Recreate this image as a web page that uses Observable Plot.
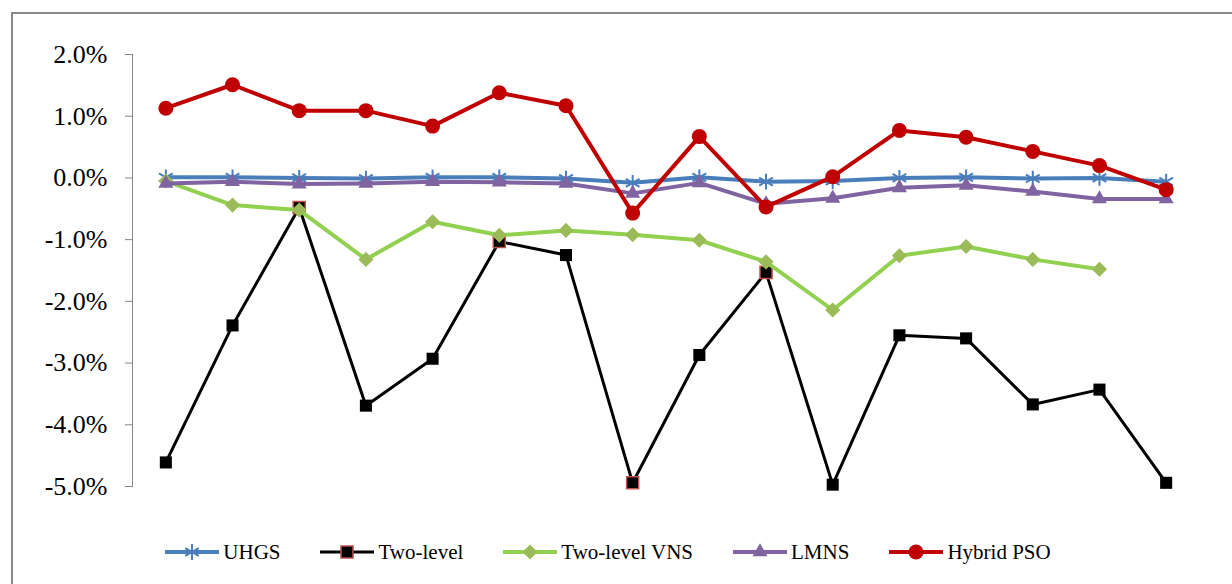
<!DOCTYPE html>
<html>
<head>
<meta charset="utf-8">
<script src="https://cdn.jsdelivr.net/npm/d3@7"></script>
<script src="https://cdn.jsdelivr.net/npm/@observablehq/plot@0.6"></script>
<style>
html, body { margin: 0; padding: 0; background: #fff; }
body { width: 1232px; height: 584px; overflow: hidden; position: relative; font-family: "Liberation Serif", "Times New Roman", Times, "Nimbus Roman", "DejaVu Serif", serif; }
#frame { position: absolute; left: 11px; top: 12px; width: 1300px; height: 700px; border: 2px solid #898989; box-sizing: border-box; pointer-events: none; }
#chart { position: absolute; left: 0; top: 0; }
#chart g[aria-label="y-axis tick label"] { fill: #000; }
#legend { position: absolute; left: 0; top: 535px; width: 1216px; height: 34px; display: flex; justify-content: center; align-items: center; gap: 40px; font-size: 21px; color: #000; }
.item { display: flex; align-items: center; }
.item svg { margin-right: 4px; overflow: visible; }
</style>
</head>
<body>
<div id="chart"></div>
<div id="legend"></div>
<div id="frame"></div>
<script>
// ---- data (percent) ----
const categories = [1, 2, 3, 4, 5, 6, 7, 8, 9, 10, 11, 12, 13, 14, 15, 16];
const uhgs      = [0.01, 0.01, 0.00, -0.01, 0.01, 0.01, -0.01, -0.08, 0.01, -0.06, -0.05, 0.00, 0.01, -0.01, 0.00, -0.06];
const twoLevel  = [-4.61, -2.39, -0.48, -3.69, -2.93, -1.03, -1.25, -4.94, -2.87, -1.53, -4.97, -2.55, -2.60, -3.67, -3.43, -4.94];
const twoLevelVNS = [-0.05, -0.44, -0.52, -1.32, -0.71, -0.93, -0.85, -0.92, -1.01, -1.36, -2.14, -1.26, -1.11, -1.32, -1.48, null];
const lmns      = [-0.09, -0.06, -0.10, -0.09, -0.06, -0.07, -0.09, -0.25, -0.08, -0.42, -0.33, -0.16, -0.12, -0.22, -0.34, -0.34];
const hybridPSO = [1.13, 1.51, 1.09, 1.09, 0.84, 1.38, 1.17, -0.57, 0.67, -0.47, 0.02, 0.77, 0.66, 0.43, 0.20, -0.19];
const twoLevelOutlined = [3, 6, 8, 10];
const seriesNames = ["UHGS", "Two-level", "Two-level VNS", "LMNS", "Hybrid PSO"];
const yTicks = [-5, -4, -3, -2, -1, 0, 1, 2];

const serifFont = "'Liberation Serif', 'Times New Roman', Times, 'Nimbus Roman', 'DejaVu Serif', serif";

// ---- styles ----
const seriesDefs = [
  {name: seriesNames[0], values: uhgs,        line: "#4A7EBB", lw: 4, symbol: "asterisk", d3sym: d3.symbolAsterisk, r: 7.5, fill: "none",     stroke: "#4A7EBB", sw: 2},
  {name: seriesNames[1], values: twoLevel,    line: "#000000", lw: 3, symbol: "square",   d3sym: d3.symbolSquare,   r: 6.8, fill: "#000000",  stroke: "none",    sw: 0},
  {name: seriesNames[2], values: twoLevelVNS, line: "#92D050", lw: 4, symbol: "diamond2", d3sym: d3.symbolDiamond2, r: 6.8, fill: "#9BBB59",  stroke: "none",    sw: 0},
  {name: seriesNames[3], values: lmns,        line: "#8064A2", lw: 4, symbol: "triangle", d3sym: d3.symbolTriangle, r: 5.6, fill: "#8064A2",  stroke: "none",    sw: 0},
  {name: seriesNames[4], values: hybridPSO,   line: "#C00000", lw: 4, symbol: "circle",   d3sym: d3.symbolCircle,   r: 7.5, fill: "#C00000",  stroke: "none",    sw: 0}
];

const marks = [];
for (const s of seriesDefs) {
  const rows = categories.map((c, i) => ({x: c, y: s.values[i]}));
  marks.push(Plot.line(rows, {x: "x", y: "y", stroke: s.line, strokeWidth: s.lw, strokeLinejoin: "round", strokeLinecap: "round"}));
  const pts = rows.filter(d => d.y != null);
  marks.push(Plot.dot(pts, {x: "x", y: "y", symbol: s.symbol, r: s.r, fill: s.fill, stroke: s.stroke, strokeWidth: s.sw}));
  if (s.name === "Two-level") {
    marks.push(Plot.dot(pts.filter(d => twoLevelOutlined.includes(d.x)), {x: "x", y: "y", symbol: "square", r: s.r, fill: "#000000", stroke: "#C0504D", strokeWidth: 1.5}));
  }
}

const chart = Plot.plot({
  width: 1232,
  height: 530,
  marginLeft: 132,
  marginRight: 33,
  marginTop: 54,
  marginBottom: 44,
  x: {type: "point", domain: categories, padding: 0.5, round: false, axis: null},
  y: {domain: [-5, 2], ticks: yTicks, tickFormat: d => d.toFixed(1) + "%", tickSize: 7, tickPadding: 18, line: true, label: null},
  style: {fontFamily: serifFont, fontSize: "26px", color: "#868686", background: "transparent", overflow: "visible"},
  marks
});
document.getElementById("chart").appendChild(chart);

// ---- legend ----
const legend = document.getElementById("legend");
for (const s of seriesDefs) {
  const item = document.createElement("div");
  item.className = "item";
  const sw = d3.create("svg").attr("width", 54).attr("height", 20);
  sw.append("line").attr("x1", 0).attr("x2", 54).attr("y1", 10).attr("y2", 10)
    .attr("stroke", s.line).attr("stroke-width", s.lw);
  const size = Math.PI * s.r * s.r;
  sw.append("path").attr("transform", "translate(27,10)")
    .attr("d", d3.symbol(s.d3sym, size)())
    .attr("fill", s.fill)
    .attr("stroke", s.name === "Two-level" ? "#C0504D" : s.stroke)
    .attr("stroke-width", s.name === "Two-level" ? 1.5 : s.sw);
  item.appendChild(sw.node());
  const label = document.createElement("span");
  label.textContent = s.name;
  item.appendChild(label);
  legend.appendChild(item);
}
</script>
</body>
</html>
